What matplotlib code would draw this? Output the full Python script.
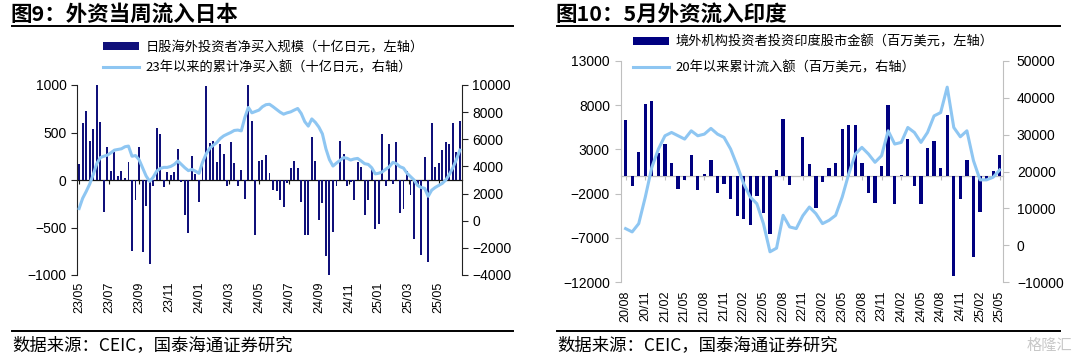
import numpy as np
import matplotlib.pyplot as plt
from matplotlib.lines import Line2D

plt.rcParams['font.family'] = ['Liberation Sans', 'Noto Sans CJK SC', 'DejaVu Sans']
cjk = ['Noto Sans CJK SC', 'DejaVu Sans']

# ---- 图9 日本: 每周净买入(十亿日元) 和 23年以来累计 ----
jp_week_net = [170, 595, 730, 415, 535, 1000, 610, -340, 345, 95,
               290, 40, 90, 25, 185, -750, -215, 350, -760, -270,
               -880, -60, 545, 480, -75, 85, 50, 80, 330, -20,
               -370, -560, 255, 60, -230, 165, 985, 390, 410, 185,
               375, 275, -65, 395, 180, -60, 105, -200, 1000, 620,
               -580, 205, 210, 265, 70, -105, -120, -215, -285, -30,
               130, 205, 130, -235, -580, -580, 455, 200, -420, -245,
               -805, -1015, -550, -65, 415, 275, -65, -25, -210, 185,
               135, -370, -210, 135, -520, -460, 485, -65, 380, -40,
               400, -345, -310, 100, -155, -625, -60, -790, 240, -860,
               595, 140, 180, 315, 400, 375, 605, 300, 625]
jp_cum = [900, 1650, 2150, 2700, 3400, 4200, 4650, 4750, 4830, 5000,
          5200, 5250, 5300, 5450, 5500, 4750, 4800, 4500, 3900, 3300,
          2900, 3200, 3650, 3850, 3930, 3930, 4000, 4150, 4400, 4150,
          3900, 3690, 3780, 3650, 3490, 4300, 4900, 5330, 5550, 5750,
          6050, 6250, 6380, 6500, 6650, 6680, 6620, 7600, 8350, 7950,
          8050, 8150, 8400, 8550, 8580, 8400, 8200, 8000, 7850, 7950,
          8020, 8150, 8270, 7900, 7300, 6970, 7500, 7250, 6900, 6400,
          5300, 4500, 4030, 4250, 4450, 4650, 4600, 4470, 4550, 4590,
          4400, 4200, 4150, 3900, 3450, 3500, 3600, 3800, 3980, 4300,
          4200, 3980, 3880, 3500, 3250, 3000, 2600, 2450, 2390, 1800,
          2250, 2450, 2600, 2750, 3000, 3400, 3900, 4500, 5200]
jp_tick_labels = ['23/05', '23/07', '23/09', '23/11', '24/01', '24/03', '24/05',
                  '24/07', '24/09', '24/11', '25/01', '25/03', '25/05']

# ---- 图10 印度: 每月FPI(百万美元) 和 20年以来累计 ----
in_month_fpi = [6300, -1170, 2700, 8180, 8480, 2600, 3580, 1470, -1430, -490,
                2410, -1620, 260, 1770, -1920, -870, -2640, -4560, -4830, -5500,
                -2300, -4180, -6600, 640, 6480, -980, -50, 4410, 1320, -3580,
                -680, 940, 1470, 5350, 5800, 5730, 1470, -1890, -3050, 1090,
                7990, -3200, 150, 4220, -1130, -3130, 3170, 3920, 900, 6940,
                -11350, -2640, 1850, -9160, -4070, -380, 530, 2340]
in_cum = [4500, 3600, 5850, 13050, 21150, 26100, 29700, 30600, 29700, 28800,
          31050, 29700, 30150, 31700, 30150, 29250, 26100, 21600, 16650, 13050,
          11250, 5850, -1800, -800, 8100, 4950, 4500, 8000, 10350, 8550,
          5850, 6750, 8100, 13050, 19350, 24750, 26550, 24750, 22500, 24300,
          31050, 27450, 27900, 31950, 30600, 27900, 30600, 35100, 36000, 42900,
          31950, 29430, 31050, 22950, 17730, 17730, 18450, 20430]
in_tick_labels = ['20/08', '20/11', '21/02', '21/05', '21/08', '21/11', '22/02',
                  '22/05', '22/08', '22/11', '23/02', '23/05', '23/08', '23/11',
                  '24/02', '24/05', '24/08', '24/11', '25/02', '25/05']

bar_col = '#10107a'
line_col = '#8ec6f2'
W, H = 1080, 360

fig = plt.figure(figsize=(W / 100, H / 100), dpi=100)


def zero_ticks(ax, ticks, color):
    # x轴画在0处, 标签放在底部
    lo, hi = ax.get_ylim()
    sec = ax.secondary_xaxis((0 - lo) / (hi - lo))
    sec.set_alignment('bottom')
    sec.set_xticks(ticks)
    sec.tick_params(axis='x', length=3, direction='out', color=color,
                    labelbottom=False, labeltop=False)
    sec.spines['bottom'].set_color(color)
    sec.spines['bottom'].set_linewidth(0.9)


# ========== 左图 ==========
ax1 = fig.add_axes([77 / W, 1 - 275 / H, 385 / W, 190 / H])
x1 = np.arange(len(jp_week_net))
b1 = ax1.bar(x1, jp_week_net, width=0.55, color=bar_col, zorder=2)
ax1.set_xlim(-0.6, len(x1) - 0.4)
ax1.set_ylim(-1000, 1000)
ax1.set_yticks([-1000, -500, 0, 500, 1000])
jp_tick_pos = np.arange(len(jp_tick_labels)) * 8.5
ax1.set_xticks(jp_tick_pos)
ax1.set_xticklabels(jp_tick_labels, rotation=90, fontsize=9)
ax1.tick_params(axis='x', length=0, pad=5)
ax1.tick_params(axis='y', labelsize=10, length=4, color='#222222')
for s in ['top', 'bottom']:
    ax1.spines[s].set_visible(False)
ax1.spines['left'].set_color('#222222')
ax1.spines['right'].set_visible(False)
zero_ticks(ax1, jp_tick_pos, '#111111')

ax1r = ax1.twinx()
l1, = ax1r.plot(x1, jp_cum, color=line_col, lw=2.2, zorder=3)
ax1r.set_ylim(-4000, 10000)
ax1r.set_yticks(np.arange(-4000, 10001, 2000))
ax1r.tick_params(axis='y', labelsize=10, length=4, color='#222222')
for s in ['top', 'bottom', 'left']:
    ax1r.spines[s].set_visible(False)
ax1r.spines['right'].set_color('#222222')

fig.legend([b1, l1],
           ['日股海外投资者净买入规模（十亿日元，左轴）',
            '23年以来的累计净买入额（十亿日元，右轴）'],
           loc='upper left', bbox_to_anchor=(103 / W, 1 - 41 / H),
           frameon=False, borderpad=0, borderaxespad=0,
           handlelength=2.7, handleheight=0.55, handletextpad=0.5,
           labelspacing=0.55, prop={'family': cjk, 'size': 9.5})

# ========== 右图 ==========
grey = '#bfbfbf'
ax2 = fig.add_axes([621 / W, 1 - 282 / H, 382 / W, 221 / H])
x2 = np.arange(len(in_month_fpi))
b2 = ax2.bar(x2, in_month_fpi, width=0.5, color='#000080', zorder=2)
ax2.set_xlim(-0.7, len(x2) - 0.5)
ax2.set_ylim(-12000, 13000)
ax2.set_yticks(np.arange(-12000, 13001, 5000))
in_tick_pos = np.arange(len(in_tick_labels)) * 3
ax2.set_xticks(in_tick_pos)
ax2.set_xticklabels(in_tick_labels, rotation=90, fontsize=9)
ax2.tick_params(axis='x', length=0, pad=6)
ax2.tick_params(axis='y', labelsize=10, length=4, color=grey, pad=4)
for s in ['top', 'bottom', 'right']:
    ax2.spines[s].set_visible(False)
ax2.spines['left'].set_color(grey)
zero_ticks(ax2, in_tick_pos, grey)

ax2r = ax2.twinx()
l2, = ax2r.plot(x2, in_cum, color=line_col, lw=2.2, zorder=3)
ax2r.set_ylim(-10000, 50000)
ax2r.set_yticks(np.arange(-10000, 50001, 10000))
ax2r.tick_params(axis='y', labelsize=10, length=4, color=grey, pad=6)
for s in ['top', 'bottom', 'left']:
    ax2r.spines[s].set_visible(False)
ax2r.spines['right'].set_color(grey)

fig.legend([b2, l2],
           ['境外机构投资者投资印度股市金额（百万美元，左轴）',
            '20年以来累计流入额（百万美元，右轴）'],
           loc='upper left', bbox_to_anchor=(633 / W, 1 - 35 / H),
           frameon=False, borderpad=0, borderaxespad=0,
           handlelength=2.7, handleheight=0.55, handletextpad=0.5,
           labelspacing=1.0, prop={'family': cjk, 'size': 9.5})

# ========== 标题 / 来源 ==========
for x0, x_end, title in [(10, 513, '图9：外资当周流入日本'),
                         (555, 1060, '图10：5月外资流入印度')]:
    fig.text(x0 / W, 1 - 14 / H, title, fontsize=15.5, fontweight='bold',
             va='center', ha='left', family=cjk)
    fig.add_artist(Line2D([(x0 + 2) / W, x_end / W], [1 - 26 / H] * 2,
                          color='black', lw=1.4))
    fig.add_artist(Line2D([(x0 + 2) / W, x_end / W], [1 - 331 / H] * 2,
                          color='black', lw=1.4))
    fig.text((x0 + 2) / W, 1 - 345 / H, '数据来源：CEIC，国泰海通证券研究',
             fontsize=12.5, va='center', ha='left', family=cjk)

fig.text(1072 / W, 1 - 345 / H, '格隆汇', fontsize=11, color='#c8c8c8',
         va='center', ha='right', family=cjk)

fig.savefig('out.png', dpi=100)
